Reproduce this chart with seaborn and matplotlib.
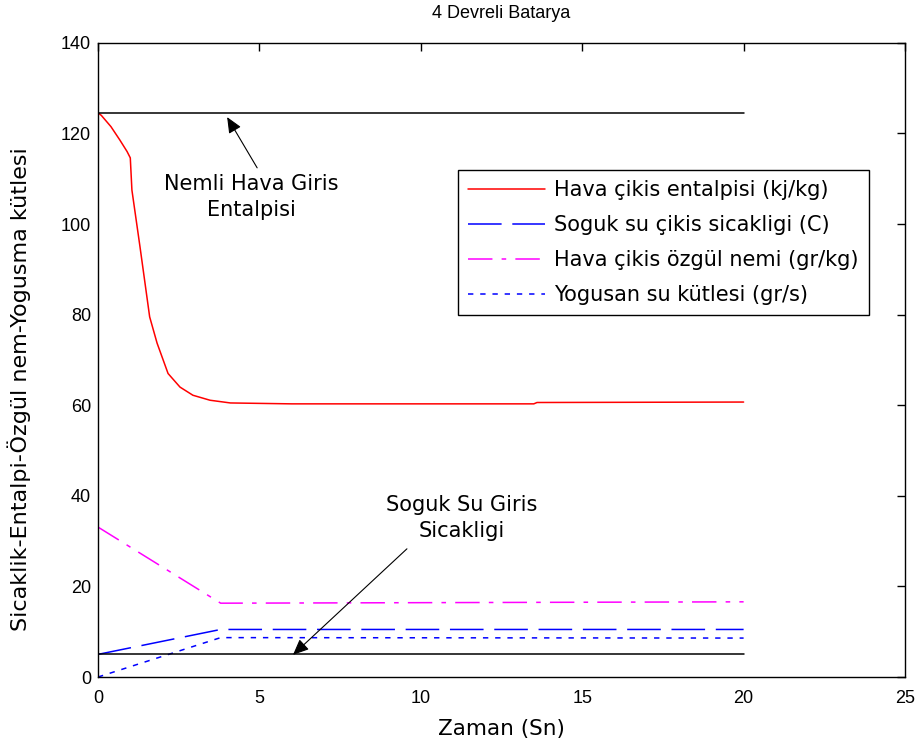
import numpy as np
import pandas as pd
import seaborn as sns
import matplotlib.pyplot as plt

# time points and series
t_enth = [0, 0.1, 0.4, 0.68, 0.9, 1.0, 1.05, 1.3, 1.6, 1.83, 2.17, 2.54, 2.94, 3.47, 4.1, 6, 10, 13.5, 13.6, 20]
enthalpy = [124.5, 124.0, 121.5, 118.5, 116, 114.6, 107.5, 95, 79.5, 73.7, 67, 64, 62.2, 61.1, 60.5, 60.3, 60.3, 60.3, 60.6, 60.7]

t_ramp = [0, 3.8, 20]
water_out = [5.0, 10.5, 10.5]
humidity = [33.1, 16.3, 16.6]
condensate = [0.0, 8.7, 8.6]

air_in_enthalpy = 124.5
water_in_temp = 5.0

sns.set_theme(style="white")
plt.rcParams['font.family'] = ['DejaVu Sans']
plt.rcParams['text.color'] = 'black'
plt.rcParams['axes.labelcolor'] = 'black'
tick_font = ['Liberation Sans', 'DejaVu Sans']

fig = plt.figure(figsize=(9.16, 7.51), dpi=100)
ax = fig.add_axes([0.107, 0.0985, 0.881, 0.8445])

sns.lineplot(x=t_enth, y=enthalpy, ax=ax, color="#ff0000", lw=1.1,
             label="Hava çikis entalpisi (kj/kg)")
sns.lineplot(x=t_ramp, y=water_out, ax=ax, color="#0000ff", lw=1.1,
             label="Soguk su çikis sicakligi (C)")
ax.lines[-1].set_dashes([22, 7])
sns.lineplot(x=t_ramp, y=humidity, ax=ax, color="#ff00ff", lw=1.1,
             label="Hava çikis özgül nemi (gr/kg)")
ax.lines[-1].set_dashes([16, 6, 3, 6])
sns.lineplot(x=t_ramp, y=condensate, ax=ax, color="#0000ff", lw=1.1,
             label="Yogusan su kütlesi (gr/s)")
ax.lines[-1].set_dashes([3.5, 4.5])

ax.plot([0, 20], [air_in_enthalpy] * 2, color="black", lw=1.1)
ax.plot([0, 20], [water_in_temp] * 2, color="black", lw=1.1)

arrow = dict(arrowstyle="-|>,head_length=0.8,head_width=0.35", color="black",
             lw=0.8, shrinkA=0, shrinkB=0)
ax.annotate("", xy=(4.0, 123.6), xytext=(4.93, 112.4), arrowprops=arrow)
ax.text(4.75, 106, "Nemli Hava Giris\nEntalpisi", ha="center", va="center",
        fontsize=15, linespacing=1.38, color="black")
ax.annotate("", xy=(6.04, 4.9), xytext=(9.57, 28.3), arrowprops=arrow)
ax.text(11.28, 35.1, "Soguk Su Giris\nSicakligi", ha="center", va="center",
        fontsize=15, linespacing=1.38, color="black")

ax.set_xlim(0, 25)
ax.set_ylim(0, 140)
ax.set_xticks(range(0, 26, 5))
ax.set_yticks(range(0, 141, 20))
ax.tick_params(direction="in", top=True, right=True, length=6, width=1,
               labelsize=13, colors="black")
ax.tick_params(axis="x", pad=9)
ax.tick_params(axis="y", pad=5)
for lab in ax.get_xticklabels() + ax.get_yticklabels():
    lab.set_family(tick_font)
for s in ax.spines.values():
    s.set_color("black")
    s.set_linewidth(1)

ax.set_xlabel("Zaman (Sn)", fontsize=15.5, color="black")
ax.xaxis.set_label_coords(0.5, -0.066)
ax.set_ylabel("Sicaklik-Entalpi-Özgül nem-Yogusma kütlesi", fontsize=16, color="black")
ax.yaxis.set_label_coords(-0.083, 0.454)
ax.set_title("4 Devreli Batarya", fontsize=13, pad=18, family=tick_font, color="black")

leg = ax.legend(loc="upper right", bbox_to_anchor=(0.955, 0.8), fontsize=15,
                frameon=True, fancybox=False, edgecolor="black", framealpha=1,
                handlelength=3.7, borderpad=0.5, labelspacing=0.72,
                handletextpad=0.4, borderaxespad=0, labelcolor="black")
leg.get_frame().set_linewidth(1)

fig.savefig("out.png", dpi=100)
